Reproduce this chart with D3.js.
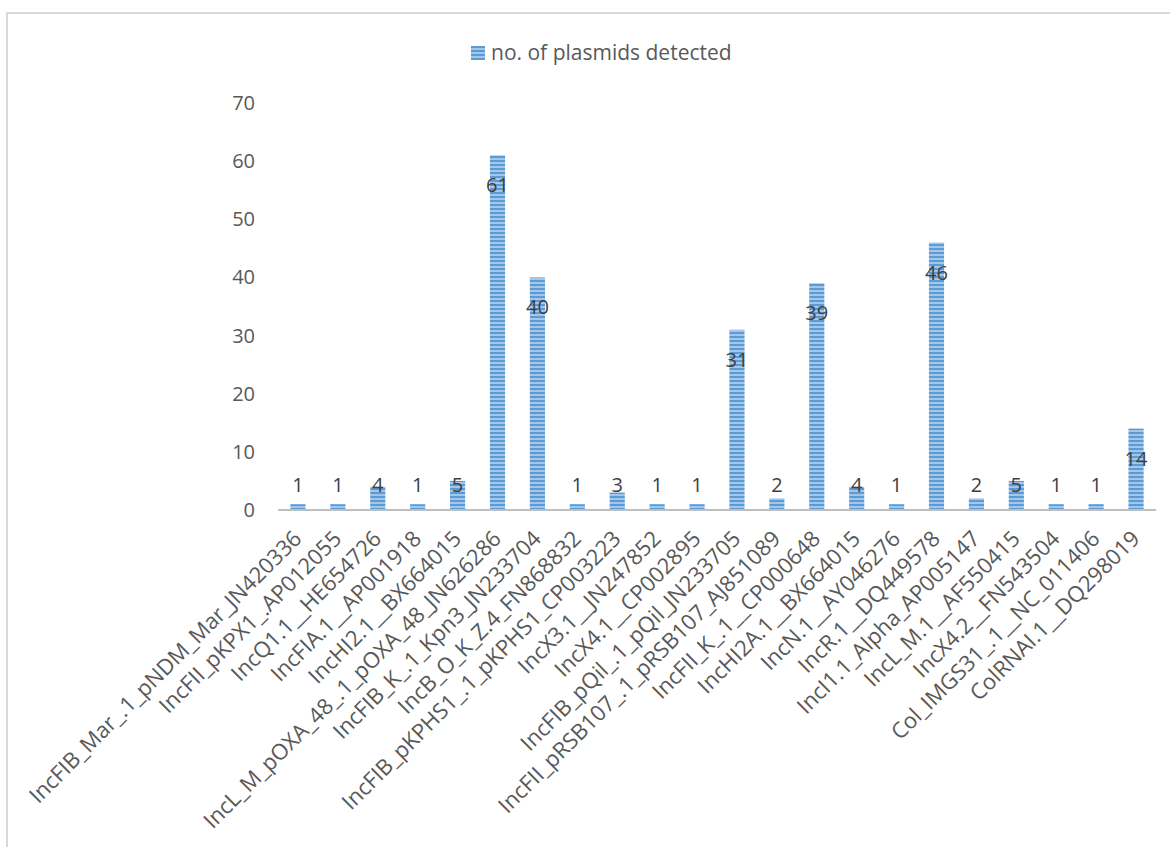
<!DOCTYPE html>
<html>
<head>
<meta charset="utf-8">
<script src="https://cdn.jsdelivr.net/npm/d3@7"></script>
<style>
  body { margin: 0; background: #fff; }
  svg { display: block; font-family: "Open Sans", sans-serif; }
</style>
</head>
<body>
<svg id="chart" width="1170" height="847"></svg>
<script>
// plasmid replicons and how many times each was detected
const categories = [
  "IncFIB_Mar_.1_pNDM_Mar_JN420336",
  "IncFII_pKPX1_.AP012055",
  "IncQ1.1__HE654726",
  "IncFIA.1__AP001918",
  "IncHI2.1__BX664015",
  "IncL_M_pOXA_48_.1_pOXA_48_JN626286",
  "IncFIB_K_.1_Kpn3_JN233704",
  "IncB_O_K_Z.4_FN868832",
  "IncFIB_pKPHS1_.1_pKPHS1_CP003223",
  "IncX3.1__JN247852",
  "IncX4.1__CP002895",
  "IncFIB_pQil_.1_pQil_JN233705",
  "IncFII_pRSB107_.1_pRSB107_AJ851089",
  "IncFII_K_.1__CP000648",
  "IncHI2A.1__BX664015",
  "IncN.1__AY046276",
  "IncR.1__DQ449578",
  "IncI1.1_Alpha_AP005147",
  "IncL_M.1__AF550415",
  "IncX4.2__FN543504",
  "Col_IMGS31_.1__NC_011406",
  "ColRNAI.1__DQ298019"
];
const detected = [1, 1, 4, 1, 5, 61, 40, 1, 3, 1, 1, 31, 2, 39, 4, 1, 46, 2, 5, 1, 1, 14];
const yTicks = [0, 10, 20, 30, 40, 50, 60, 70];
const seriesName = "no. of plasmids detected";

const svg = d3.select("#chart");

// outer chart frame (runs off the right and bottom edges)
svg.append("rect")
  .attr("x", 7).attr("y", 13)
  .attr("width", 1200).attr("height", 900)
  .attr("fill", "none")
  .attr("stroke", "#d9d9d9")
  .attr("stroke-width", 2);

// striped fill like the excel "narrow horizontal" pattern
const pat = svg.append("defs").append("pattern")
  .attr("id", "stripes")
  .attr("patternUnits", "userSpaceOnUse")
  .attr("width", 8).attr("height", 4);
pat.append("rect").attr("width", 8).attr("height", 4).attr("fill", "#a4c6ea");
pat.append("rect").attr("width", 8).attr("height", 2).attr("fill", "#5b9bd5");

const x = d3.scaleBand()
  .domain(categories)
  .range([278, 1156])
  .paddingInner(0.62)
  .paddingOuter(0.31);

const y = d3.scaleLinear()
  .domain([0, 70])
  .range([510, 103]);

// y tick labels (no axis line, no grid)
svg.append("g")
  .selectAll("text")
  .data(yTicks)
  .join("text")
  .attr("x", 255)
  .attr("y", d => y(d))
  .attr("dy", "0.35em")
  .attr("text-anchor", "end")
  .attr("fill", "#595959")
  .style("font-size", "20px")
  .text(d => d);

// bars
svg.append("g")
  .selectAll("rect")
  .data(detected)
  .join("rect")
  .attr("x", (d, i) => x(categories[i]))
  .attr("y", d => y(d))
  .attr("width", x.bandwidth())
  .attr("height", d => y(0) - y(d))
  .attr("fill", "url(#stripes)");

// category axis line
svg.append("line")
  .attr("x1", 278).attr("x2", 1156)
  .attr("y1", y(0)).attr("y2", y(0))
  .attr("stroke", "#bfbfbf")
  .attr("stroke-width", 2);

// data labels
svg.append("g")
  .selectAll("text")
  .data(detected)
  .join("text")
  .attr("x", (d, i) => x(categories[i]) + x.bandwidth() / 2)
  .attr("y", d => Math.min(y(d) + 37, y(0) - 18))
  .attr("text-anchor", "middle")
  .attr("fill", "#404040")
  .style("font-size", "20px")
  .text(d => d);

// rotated category labels
svg.append("g")
  .selectAll("text")
  .data(categories)
  .join("text")
  .attr("transform", d => {
    const cx = x(d) + x.bandwidth() / 2;
    return `translate(${cx + 5},${y(0) + 30}) rotate(-45)`;
  })
  .attr("text-anchor", "end")
  .attr("fill", "#595959")
  .style("font-size", "22px")
  .text(d => d);

// legend
const legend = svg.append("g").attr("transform", "translate(471,46)");
legend.append("rect")
  .attr("width", 14).attr("height", 14)
  .attr("fill", "url(#stripes)");
legend.append("text")
  .attr("x", 20).attr("y", 7)
  .attr("dy", "0.35em")
  .attr("fill", "#595959")
  .style("font-size", "21px")
  .text(seriesName);
</script>
</body>
</html>
